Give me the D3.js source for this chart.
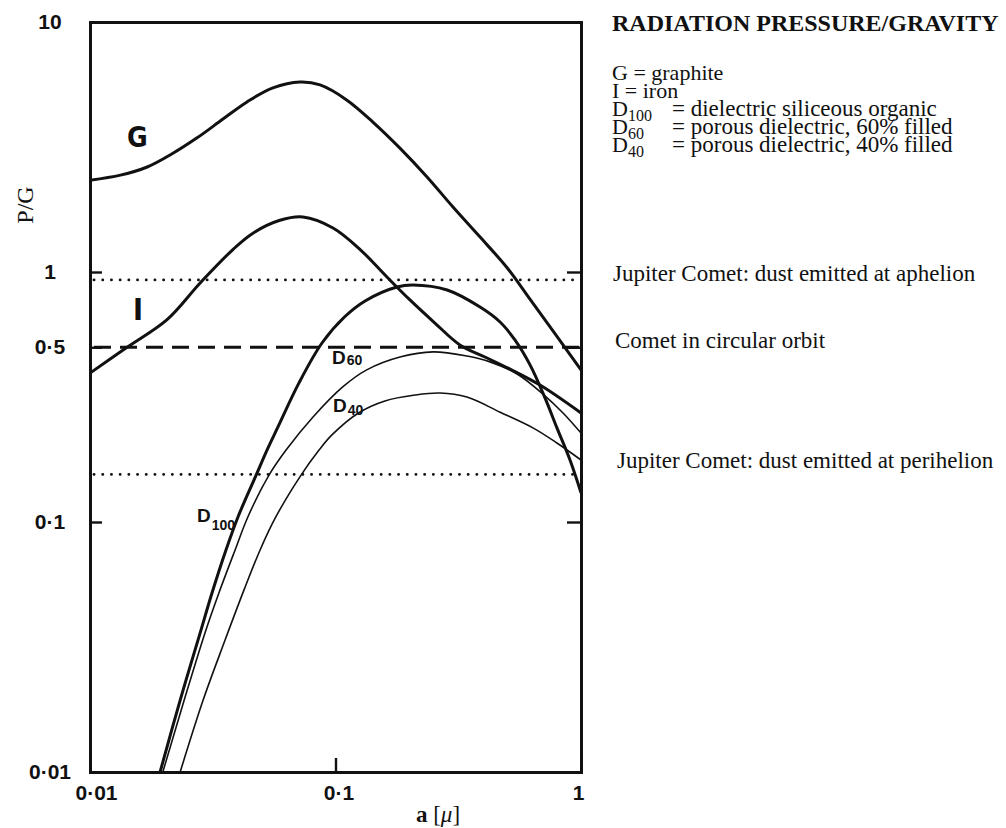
<!DOCTYPE html>
<html>
<head>
<meta charset="utf-8">
<title>Radiation pressure / gravity</title>
<script src="https://cdn.jsdelivr.net/npm/d3@7"></script>
<style>
  body { margin: 0; background: #fff; }
  svg { display: block; }
  .serif { font-family: "Liberation Serif", "Times New Roman", serif; fill: #111; }
  .bold-sans { font-family: "Liberation Sans", Arial, sans-serif; font-weight: bold; fill: #111; }
  .narrow { font-family: "Liberation Sans Narrow", "DejaVu Sans Condensed", sans-serif; font-weight: bold; fill: #111; }
</style>
</head>
<body>
<div id="container"></div>
<script>
/* DATA  (particle radius a in micron, P/G ratio) */
const sizeG  = [0.01, 0.0133, 0.0171, 0.0216, 0.0273, 0.0348, 0.0436, 0.0556, 0.0717, 0.0865, 0.111, 0.142, 0.183, 0.236, 0.301, 0.388, 0.500, 0.603, 1];
const ratioG = [2.33, 2.44, 2.63, 2.97, 3.44, 4.09, 4.79, 5.45, 5.75, 5.60, 4.88, 3.98, 3.13, 2.40, 1.82, 1.38, 1.04, 0.809, 0.406];

const sizeI  = [0.01, 0.0142, 0.0206, 0.0281, 0.0382, 0.0461, 0.0594, 0.0737, 0.0977, 0.126, 0.162, 0.201, 0.254, 0.321, 0.406, 0.514, 0.681, 1];
const ratioI = [0.394, 0.501, 0.645, 0.904, 1.23, 1.43, 1.61, 1.66, 1.50, 1.23, 0.955, 0.773, 0.625, 0.511, 0.457, 0.409, 0.353, 0.273];

const sizeD100  = [0.0193, 0.0233, 0.0281, 0.0314, 0.0358, 0.0401, 0.0475, 0.0526, 0.0583, 0.0710, 0.0881, 0.109, 0.132, 0.178, 0.207, 0.285, 0.388, 0.468, 0.538, 0.620, 0.714, 0.798, 0.902, 1];
const ratioD100 = [0.01, 0.0194, 0.036, 0.052, 0.0773, 0.105, 0.154, 0.194, 0.240, 0.360, 0.520, 0.662, 0.766, 0.871, 0.887, 0.847, 0.724, 0.631, 0.535, 0.425, 0.313, 0.238, 0.177, 0.131];

const sizeD60  = [0.0198, 0.0242, 0.0294, 0.0335, 0.0390, 0.0440, 0.0536, 0.0629, 0.0810, 0.107, 0.134, 0.183, 0.250, 0.343, 0.426, 0.549, 0.700, 0.845, 1];
const ratioD60 = [0.01, 0.0194, 0.036, 0.052, 0.0773, 0.105, 0.154, 0.194, 0.263, 0.347, 0.406, 0.457, 0.479, 0.461, 0.437, 0.391, 0.325, 0.273, 0.227];

const sizeD40  = [0.0233, 0.0289, 0.0355, 0.0424, 0.0493, 0.0572, 0.0724, 0.0857, 0.0967, 0.124, 0.159, 0.211, 0.267, 0.343, 0.468, 0.637, 0.798, 1];
const ratioD40 = [0.01, 0.0194, 0.0337, 0.0535, 0.0773, 0.105, 0.154, 0.194, 0.223, 0.273, 0.305, 0.322, 0.328, 0.316, 0.275, 0.238, 0.207, 0.177];

// horizontal reference levels
const refNames  = ["aphelion", "circular", "perihelion"];
const refLevels = [0.93, 0.5, 0.155];
const refNotes  = ["Jupiter Comet: dust emitted at aphelion", "Comet in circular orbit", "Jupiter Comet: dust emitted at perihelion"];

// ticks
const yTicks = [10, 1, 0.5, 0.1, 0.01];
const yTickLabels = ["10", "1", "0·5", "0·1", "0·01"];
const xTicks = [0.01, 0.1, 1];
const xTickLabels = ["0·01", "0·1", "1"];

// legend
const legendKeys = ["G", "I", "D", "D", "D"];
const legendSubs = ["", "", "100", "60", "40"];
const legendDesc = ["graphite", "iron", "dielectric siliceous organic", "porous dielectric, 60% filled", "porous dielectric, 40% filled"];

/* CONSTANTS */
const width = 1006, height = 828;
const ink = "#111";

const series = [
  { name: "G", pts: d3.zip(sizeG, ratioG), heavy: true },
  { name: "I", pts: d3.zip(sizeI, ratioI), heavy: true },
  { name: "D100", pts: d3.zip(sizeD100, ratioD100), heavy: true },
  { name: "D60", pts: d3.zip(sizeD60, ratioD60), heavy: false },
  { name: "D40", pts: d3.zip(sizeD40, ratioD40), heavy: false }
];

/* SCALES */
const xScale = d3.scaleLog().domain([0.01, 1]).range([90, 581]);
const yScale = d3.scaleLog().domain([0.01, 10]).range([772, 22]);

const svg = d3.select("#container")
  .append("svg")
  .attr("width", width)
  .attr("height", height);

// reference lines
svg.selectAll("line.ref")
  .data(refLevels)
  .join("line")
  .attr("class", "ref")
  .attr("x1", xScale(0.01) + 4)
  .attr("x2", xScale(1))
  .attr("y1", d => yScale(d))
  .attr("y2", d => yScale(d))
  .attr("stroke", ink)
  .attr("stroke-width", 2.8)
  .attr("stroke-linecap", (d, i) => refNames[i] === "circular" ? "butt" : "round")
  .attr("stroke-dasharray", (d, i) => refNames[i] === "circular" ? "17 9" : "0.1 8.6");

// curves
const line = d3.line()
  .x(d => xScale(d[0]))
  .y(d => yScale(d[1]))
  .curve(d3.curveCatmullRom.alpha(0.5));

svg.selectAll("path.curve")
  .data(series)
  .join("path")
  .attr("class", "curve")
  .attr("fill", "none")
  .attr("stroke", ink)
  .attr("stroke-width", d => d.heavy ? 3 : 1.6)
  .attr("stroke-linejoin", "round")
  .attr("d", d => line(d.pts));

/* AXES */
const styleAxis = g => {
  g.select(".domain").attr("stroke", ink).attr("stroke-width", 3).attr("stroke-linecap", "square");
  g.selectAll(".tick line").attr("stroke", ink).attr("stroke-width", 2.4);
  g.attr("font-family", "'Liberation Sans', Arial, sans-serif")
   .attr("font-size", 21)
   .attr("font-weight", "bold");
  g.selectAll(".tick text").attr("fill", ink);
};

svg.append("g")
  .attr("transform", `translate(${xScale(0.01)},0)`)
  .call(d3.axisLeft(yScale).tickValues(yTicks).tickFormat((d, i) => yTickLabels[i]).tickSizeInner(-12).tickSizeOuter(0))
  .call(styleAxis)
  .call(g => g.selectAll(".tick text").attr("x", -40).attr("text-anchor", "middle"));

svg.append("g")
  .attr("transform", `translate(${xScale(1)},0)`)
  .call(d3.axisRight(yScale).tickValues([1, 0.5, 0.1]).tickFormat("").tickSizeInner(-14).tickSizeOuter(0))
  .call(styleAxis);

svg.append("g")
  .attr("transform", `translate(0,${yScale(0.01)})`)
  .call(d3.axisBottom(xScale).tickValues(xTicks).tickFormat((d, i) => xTickLabels[i]).tickSizeInner(-14).tickSizeOuter(0).tickPadding(13))
  .call(styleAxis)
  .call(g => g.selectAll(".tick text").attr("dx", (d, i) => i === 0 ? 6 : (i === 1 ? 3 : -3)));

svg.append("g")
  .attr("transform", `translate(0,${yScale(10)})`)
  .call(d3.axisTop(xScale).tickValues([]).tickSizeOuter(0))
  .call(styleAxis);

// axis titles
const xt = svg.append("text").attr("class", "serif")
  .attr("x", 438).attr("y", 822).attr("text-anchor", "middle").attr("font-size", 23);
xt.append("tspan").attr("font-weight", "bold").text("a");
xt.append("tspan").text(" [");
xt.append("tspan").attr("font-style", "italic").text("μ");
xt.append("tspan").text("]");

svg.append("text").attr("class", "serif")
  .attr("transform", "translate(33,205) rotate(-90)")
  .attr("text-anchor", "middle")
  .attr("font-size", 24)
  .text("P/G");

/* CURVE LABELS */
svg.append("text").attr("class", "narrow").attr("x", 127).attr("y", 147).attr("font-size", 28).text("G");
svg.append("text").attr("class", "narrow").attr("x", 133).attr("y", 320).attr("font-size", 30).text("I");

const dLabel = (px, py, sub, subDy) => {
  const t = svg.append("text").attr("class", "bold-sans").attr("x", px).attr("y", py).attr("font-size", 19);
  t.append("tspan").text("D");
  t.append("tspan").attr("font-size", 14).attr("dx", 1).attr("dy", subDy).text(sub);
};
dLabel(332, 364, "60", 1);
dLabel(333, 412, "40", 3);
dLabel(197, 522, "100", 8);

/* TITLE, LEGEND, NOTES */
svg.append("text").attr("class", "serif")
  .attr("x", 612).attr("y", 31)
  .attr("font-size", 24).attr("font-weight", "bold")
  .text("RADIATION PRESSURE/GRAVITY");

const legend = svg.append("g").attr("class", "serif").attr("font-size", 22);
legendKeys.forEach((k, i) => {
  const yy = 80 + i * 18;
  const t = legend.append("text").attr("x", 612).attr("y", yy);
  t.append("tspan").text(k);
  if (legendSubs[i]) {
    t.append("tspan").attr("font-size", 16).attr("dy", 5).text(legendSubs[i]);
    legend.append("text").attr("x", 672).attr("y", yy).attr("font-size", 23).text("= " + legendDesc[i]);
  } else {
    t.append("tspan").text(" = " + legendDesc[i]);
  }
});

svg.selectAll("text.note")
  .data(refNotes)
  .join("text")
  .attr("class", "note serif")
  .attr("x", (d, i) => 613 + i * 2)
  .attr("y", (d, i) => yScale(refLevels[i]) - (i === 2 ? 6 : -1))
  .attr("font-size", 23)
  .text(d => d);
</script>
</body>
</html>
